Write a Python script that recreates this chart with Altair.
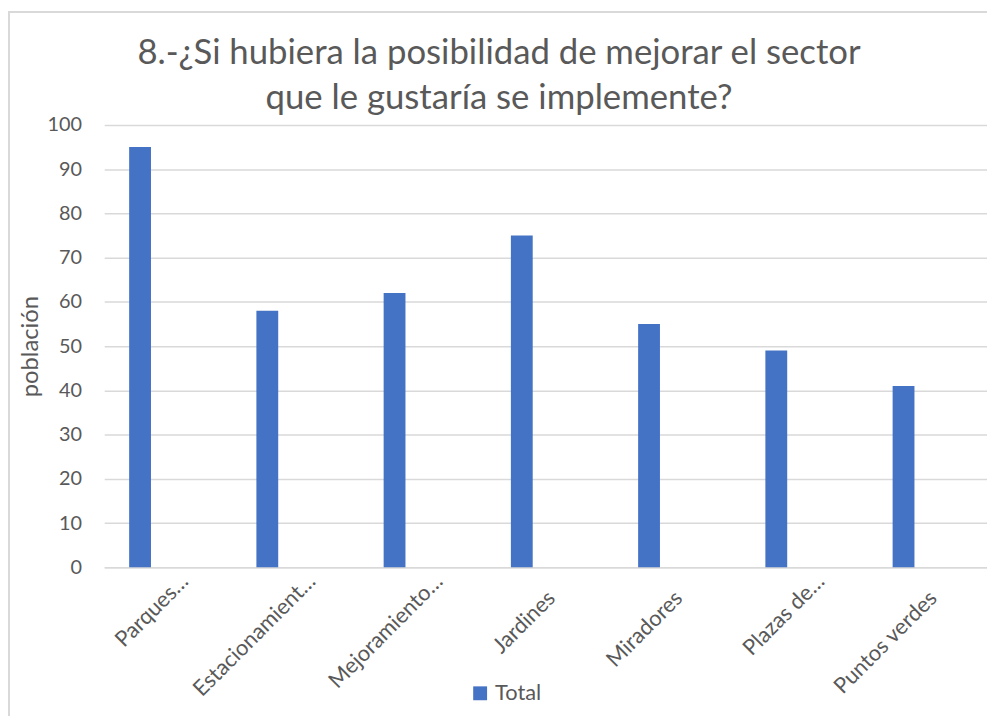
import altair as alt
import pandas as pd

categories = ["Parques…", "Estacionamient…", "Mejoramiento…", "Jardines",
              "Miradores", "Plazas de…", "Puntos verdes"]
values = [95, 58, 62, 75, 55, 49, 41]
series = ["Total"] * len(categories)
y_ticks = list(range(0, 101, 10))
title_lines = ["8.-¿Si hubiera la posibilidad de mejorar el sector",
               "que le gustaría se implemente?"]

df = pd.DataFrame({"categoria": categories, "poblacion": values, "serie": series})

FONT = "Lato"
TXT = "#595959"
GRID = "#D9D9D9"
W, H = 890, 446
TRUNC = "indexof(datum.label, '…') >= 0"

bars = alt.Chart(df).mark_bar(size=22, xOffset=-28, color="#4472C4").encode(
    x=alt.X("categoria:N", sort=categories, title=None,
            scale=alt.Scale(range=[0, 898]),
            axis=alt.Axis(labelAngle=-45, labelFont=FONT, labelFontSize=22,
                          labelColor=TXT,
                          labelPadding={"condition": {"test": TRUNC, "value": 3}, "value": 20},
                          labelOffset={"condition": {"test": TRUNC, "value": 10}, "value": -5},
                          ticks=False, domain=True, domainColor=GRID,
                          domainWidth=1.5, labelLimit=300)),
    y=alt.Y("poblacion:Q", title="población",
            scale=alt.Scale(domain=[0, 100]),
            axis=alt.Axis(values=y_ticks, labelFont=FONT, labelFontSize=20,
                          labelColor=TXT, labelPadding=23, ticks=False,
                          domain=False, gridColor=GRID, gridWidth=1.5,
                          titleFont=FONT, titleFontSize=24, titleColor=TXT,
                          titleFontWeight="normal", titleX=-62, titleY=H / 2,
                          titleAngle=-90)),
    color=alt.Color("serie:N", title=None,
                    scale=alt.Scale(range=["#4472C4"]),
                    legend=alt.Legend(orient="none", legendX=368, legendY=562,
                                      symbolType="square", symbolSize=196,
                                      symbolStrokeWidth=0, labelFont=FONT,
                                      labelFontSize=22, labelColor=TXT)),
)

title1 = alt.Chart(pd.DataFrame({"t": [title_lines[0]]})).mark_text(
    font=FONT, fontSize=35, color=TXT, align="center", baseline="alphabetic"
).encode(text="t:N", x=alt.value(398), y=alt.value(-61))
title2 = alt.Chart(pd.DataFrame({"t": [title_lines[1]]})).mark_text(
    font=FONT, fontSize=35, color=TXT, align="center", baseline="alphabetic"
).encode(text="t:N", x=alt.value(398), y=alt.value(-16))

border_left = alt.Chart(df).mark_rule(color=GRID, strokeWidth=2).encode(
    x=alt.value(-96), y=alt.value(-115), y2=alt.value(H + 150))
border_top = alt.Chart(df).mark_rule(color=GRID, strokeWidth=2).encode(
    x=alt.value(-96), x2=alt.value(W + 10), y=alt.value(-114))

chart = alt.layer(border_left, border_top, bars, title1, title2).properties(
    width=W, height=H,
    autosize=alt.AutoSizeParams(type="none"),
    padding={"left": 97, "top": 115, "right": 0, "bottom": 150},
).configure_view(stroke=None)

chart.save("out.html", embed_options={"renderer": "svg", "actions": False})
